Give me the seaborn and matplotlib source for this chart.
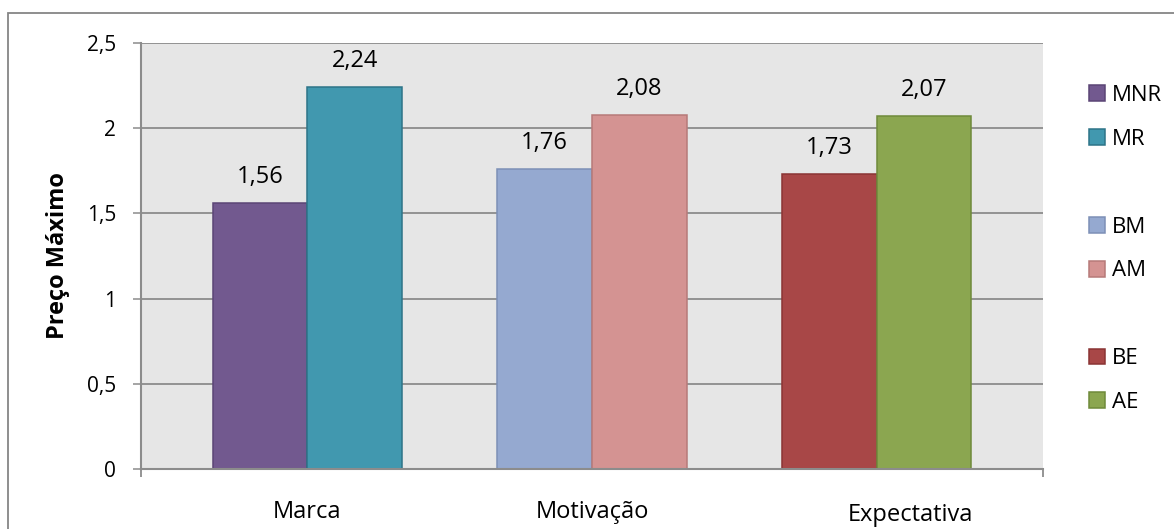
import matplotlib
matplotlib.use("Agg")
import matplotlib.pyplot as plt
import pandas as pd
import seaborn as sns
from matplotlib.patches import Patch, Rectangle
from matplotlib.transforms import ScaledTranslation

# Data
categories = ["Marca", "Motivação", "Expectativa"]
left_labels = ["MNR", "BM", "BE"]
right_labels = ["MR", "AM", "AE"]
left_values = [1.56, 1.76, 1.73]
right_values = [2.24, 2.08, 2.07]
y_ticks = [0, 0.5, 1, 1.5, 2, 2.5]
y_tick_labels = ["0", "0,5", "1", "1,5", "2", "2,5"]

# Bar styling
face = {
    "MNR": "#72598f", "MR": "#4198af",
    "BM": "#95a9d0", "AM": "#d49392",
    "BE": "#a84747", "AE": "#8ba650",
}
edge = {
    "MNR": "#5b4575", "MR": "#2d7488",
    "BM": "#7d90b6", "AM": "#b67a79",
    "BE": "#8a3434", "AE": "#6f8a3b",
}

rows = []
for cat, ll, rl, lv, rv in zip(categories, left_labels, right_labels,
                               left_values, right_values):
    rows.append({"categoria": cat, "lado": "esq", "grupo": ll, "valor": lv})
    rows.append({"categoria": cat, "lado": "dir", "grupo": rl, "valor": rv})
df = pd.DataFrame(rows)

GRAY = "#8c8c8c"
plt.rcParams["font.family"] = ["Open Sans", "DejaVu Sans"]

W, H = 1174, 529
fig = plt.figure(figsize=(W / 100, H / 100), dpi=100)
ax = fig.add_axes([141 / W, 1 - 469 / H, 902 / W, 426 / H])
ax.set_facecolor("#e6e6e6")
ax.set_axisbelow(True)
ax.yaxis.grid(True, color=GRAY, linewidth=1.3)

sns.barplot(data=df, x="categoria", y="valor", hue="lado",
            order=categories, hue_order=["esq", "dir"], dodge=True,
            width=0.667, gap=0, saturation=1, legend=False, ax=ax)

for container, labels, values in zip(ax.containers,
                                     [left_labels, right_labels],
                                     [left_values, right_values]):
    for bar, lab, val in zip(container, labels, values):
        bar.set_facecolor(face[lab])
        bar.set_edgecolor(edge[lab])
        bar.set_linewidth(1.1)
        ax.annotate(f"{val:.2f}".replace(".", ","),
                    (bar.get_x() + bar.get_width() / 2, val),
                    xytext=(0, 10), textcoords="offset points",
                    ha="center", va="bottom", fontsize=17, color="black")

XMIN, XMAX = -0.585, 2.585
ax.set_xlim(XMIN, XMAX)
ax.set_ylim(0, 2.5)
ax.set_yticks(y_ticks)
ax.set_yticklabels(y_tick_labels)
ax.set_xticks(range(len(categories)))
ax.set_xticklabels(categories)
ax.set_xticks([XMIN, XMAX], minor=True)
ax.tick_params(axis="y", which="major", left=True, length=6, width=1.1,
               color=GRAY, pad=12, labelsize=15, direction="out")
ax.tick_params(axis="x", which="major", bottom=True, length=0, pad=22,
               labelsize=17)
ax.tick_params(axis="x", which="minor", bottom=True, length=6, width=1.3,
               color=GRAY, direction="out")

# The last category label sits a little right of and below its group
last = ax.get_xticklabels()[2]
last.set_transform(last.get_transform()
                   + ScaledTranslation(0.34, -0.03, fig.dpi_scale_trans))

for side in ["top", "right"]:
    ax.spines[side].set_visible(False)
for side in ["left", "bottom"]:
    ax.spines[side].set_color(GRAY)
    ax.spines[side].set_linewidth(1.5)

ax.set_xlabel("")
ax.set_ylabel("Preço Máximo", fontsize=17, fontweight="bold")
ax.yaxis.set_label_coords(-0.079, 0.5)

# Legend with blank rows between the pairs
handles, names = [], []
for i, (ll, rl) in enumerate(zip(left_labels, right_labels)):
    if i:
        handles.append(Patch(facecolor="none", edgecolor="none"))
        names.append("")
    for lab in (ll, rl):
        handles.append(Patch(facecolor=face[lab], edgecolor=edge[lab],
                             linewidth=1.1))
        names.append(lab)
fig.legend(handles, names, loc="center left",
           bbox_to_anchor=(1089 / W, 1 - 249 / H), frameon=False,
           fontsize=16, handlelength=0.72, handleheight=0.72,
           handletextpad=0.32, labelspacing=1.03, borderpad=0,
           borderaxespad=0)

# Chart frame
fig.patches.append(Rectangle((8 / W, -0.5), 2, (1 - 13 / H) + 0.5,
                             transform=fig.transFigure, fill=False,
                             edgecolor="#868686", linewidth=1.3))

fig.savefig("out.png", dpi=100)
